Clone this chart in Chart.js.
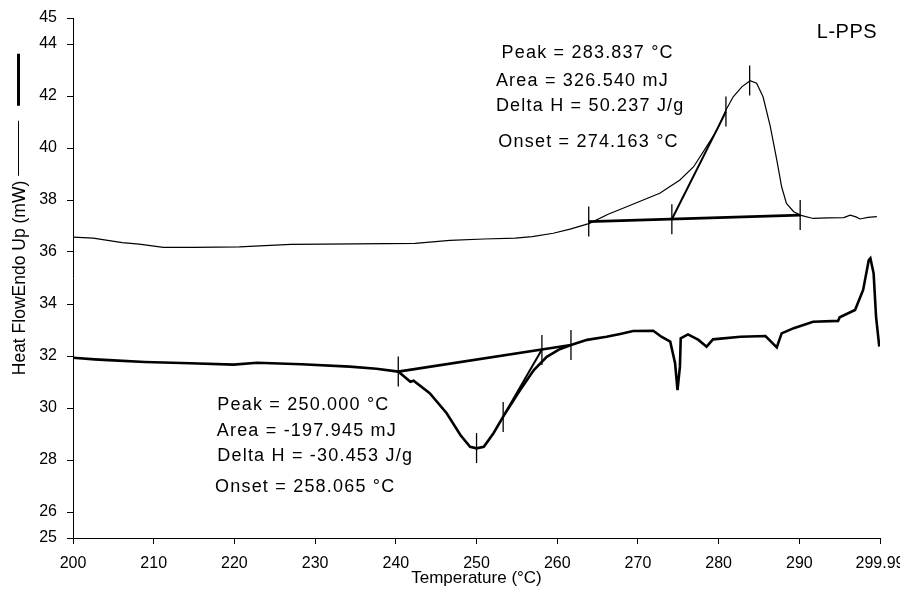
<!DOCTYPE html>
<html lang="en">
<head>
    <meta charset="UTF-8">
    <meta name="viewport" content="width=device-width, initial-scale=1.0">
    <title>L-PPS DSC</title>
    <script src="https://cdn.jsdelivr.net/npm/chart.js"></script>
    <style>
        html, body {
            margin: 0;
            padding: 0;
            background: #fff;
            overflow: hidden;
        }
        .wrap {
            width: 900px;
            height: 594px;
            overflow: hidden;
        }
        .box {
            position: relative;
            width: 920px;
            height: 594px;
        }
    </style>
</head>
<body>
    <div class="wrap">
        <div class="box"><canvas id="dscChart"></canvas></div>
    </div>

    <script>
        // axis ticks
        const xTicks = [200, 210, 220, 230, 240, 250, 260, 270, 280, 290, 299.99];
        const yTicks = [25, 26, 28, 30, 32, 34, 36, 38, 40, 42, 44, 45];

        // thin curve (upper trace)
        const thinTemp = [200.0, 202.5, 206.1, 208.2, 211.2, 215.0, 220.6, 227.0, 235.0, 242.4, 246.7, 250.9, 254.8, 256.9,
            259.5, 261.6, 264.0, 266.3, 268.6, 272.7, 275.2, 276.9, 278.5, 279.8, 280.9, 281.8, 282.9, 283.9,
            284.7, 285.5, 286.4, 287.2, 287.8, 288.4, 289.3, 290.1, 291.7, 293.5, 295.5, 296.3, 297.0, 297.5, 298.5, 299.6];
        const thinFlow = [36.57, 36.53, 36.36, 36.30, 36.18, 36.18, 36.20, 36.29, 36.31, 36.33, 36.45, 36.50, 36.53, 36.59,
            36.72, 36.88, 37.10, 37.45, 37.74, 38.26, 38.77, 39.28, 40.05, 40.69, 41.46, 41.97, 42.36, 42.59,
            42.49, 41.97, 40.82, 39.54, 38.51, 37.87, 37.55, 37.42, 37.29, 37.31, 37.32, 37.42, 37.35, 37.27, 37.33, 37.36];

        // thick curve (lower trace)
        const thickTemp = [200.0, 202.7, 205.0, 208.9, 214.5, 219.9, 222.8, 228.3, 234.3, 237.6, 240.3, 241.8, 242.2, 244.2,
            246.3, 248.0, 249.2, 250.0, 250.9, 252.1, 253.3, 255.4, 257.1, 258.7, 260.3, 261.7, 263.7, 266.1,
            267.8, 269.4, 271.9, 272.9, 274.0, 274.6, 274.9, 275.2, 275.3, 276.2, 277.5, 278.5, 279.3, 282.7,
            285.8, 287.2, 287.8, 289.3, 291.7, 294.8, 295.0, 296.9, 297.9, 298.6, 298.8, 299.2, 299.5, 299.9];
        const thickFlow = [31.93, 31.87, 31.83, 31.77, 31.72, 31.67, 31.74, 31.68, 31.59, 31.51, 31.40, 31.01, 31.05, 30.57,
            29.80, 28.96, 28.51, 28.45, 28.51, 29.03, 29.67, 30.69, 31.46, 31.97, 32.26, 32.42, 32.62, 32.74,
            32.85, 32.96, 32.97, 32.74, 32.55, 31.72, 30.69, 31.59, 32.68, 32.83, 32.62, 32.36, 32.64, 32.74,
            32.77, 32.33, 32.87, 33.07, 33.32, 33.35, 33.49, 33.77, 34.54, 35.69, 35.76, 35.18, 33.51, 32.36];

        // baselines and onset tangents
        const thinBaseTemp = [263.9, 290.1];
        const thinBaseFlow = [37.17, 37.42];
        const thinOnsetTemp = [274.2, 280.9];
        const thinOnsetFlow = [37.26, 41.40];
        const thickBaseTemp = [240.3, 261.7];
        const thickBaseFlow = [31.40, 32.42];
        const thickOnsetTemp = [253.3, 258.1];
        const thickOnsetFlow = [29.67, 32.25];

        // cursor marks
        const markTemp = [263.9, 274.2, 280.9, 283.84, 290.1, 240.3, 250.0, 253.3, 258.1, 261.7];
        const markFlow = [37.17, 37.26, 41.40, 42.60, 37.42, 31.40, 28.46, 29.65, 32.23, 32.42];

        // result text, anchored in data units
        const notes = [
            { text: 'Peak = 283.837 °C', x: 253.1, y: 43.65 },
            { text: 'Area = 326.540 mJ', x: 252.4, y: 42.58 },
            { text: 'Delta H = 50.237 J/g', x: 252.4, y: 41.60 },
            { text: 'Onset = 274.163 °C', x: 252.7, y: 40.24 },
            { text: 'Peak = 250.000 °C', x: 217.88, y: 30.12 },
            { text: 'Area = -197.945 mJ', x: 217.81, y: 29.13 },
            { text: 'Delta H = -30.453 J/g', x: 217.88, y: 28.16 },
            { text: 'Onset = 258.065 °C', x: 217.6, y: 26.97 }
        ];
        const sampleName = { text: 'L-PPS', x: 292.16, y: 44.44 };

        function pairs(xs, ys) {
            return xs.map((x, i) => ({ x: x, y: ys[i] }));
        }

        function lineSet(xs, ys, width) {
            return {
                data: pairs(xs, ys),
                showLine: true,
                borderColor: '#000',
                borderWidth: width,
                pointRadius: 0,
                tension: 0
            };
        }

        const notesPlugin = {
            id: 'notes',
            afterDatasetsDraw(chart) {
                const ctx = chart.ctx;
                const xs = chart.scales.x;
                const ys = chart.scales.y;
                ctx.save();
                ctx.fillStyle = '#000';
                ctx.textAlign = 'left';
                ctx.textBaseline = 'middle';
                ctx.font = '18px Arial, "Liberation Sans", sans-serif';
                ctx.letterSpacing = '1.2px';
                notes.forEach(n => {
                    ctx.fillText(n.text, xs.getPixelForValue(n.x), ys.getPixelForValue(n.y));
                });
                ctx.font = '20px Arial, "Liberation Sans", sans-serif';
                ctx.letterSpacing = '0.5px';
                ctx.fillText(sampleName.text, xs.getPixelForValue(sampleName.x), ys.getPixelForValue(sampleName.y));
                ctx.restore();
            }
        };

        // line keys drawn after the y axis title
        const yKeyPlugin = {
            id: 'yKey',
            afterDraw(chart) {
                const ys = chart.scales.y;
                const t = ys.options.title;
                const ctx = chart.ctx;
                ctx.save();
                ctx.font = t.font.size + 'px ' + t.font.family;
                const w = ctx.measureText(t.text).width;
                const end = (ys.top + ys.bottom) / 2 - w / 2;
                const x = ys.left + 18.5;
                ctx.strokeStyle = '#000';
                ctx.lineWidth = 1;
                ctx.beginPath();
                ctx.moveTo(x, end - 5);
                ctx.lineTo(x, end - 60);
                ctx.stroke();
                ctx.lineWidth = 3;
                ctx.beginPath();
                ctx.moveTo(x, end - 75);
                ctx.lineTo(x, end - 127);
                ctx.stroke();
                ctx.restore();
            }
        };

        const ctx = document.getElementById('dscChart').getContext('2d');
        new Chart(ctx, {
            type: 'scatter',
            data: {
                datasets: [
                    lineSet(thinTemp, thinFlow, 1.2),
                    lineSet(thickTemp, thickFlow, 2.6),
                    lineSet(thinBaseTemp, thinBaseFlow, 2.6),
                    lineSet(thinOnsetTemp, thinOnsetFlow, 2),
                    lineSet(thickBaseTemp, thickBaseFlow, 2.6),
                    lineSet(thickOnsetTemp, thickOnsetFlow, 2),
                    {
                        data: pairs(markTemp, markFlow),
                        showLine: false,
                        pointStyle: 'line',
                        rotation: 90,
                        pointRadius: 15,
                        borderColor: '#000',
                        borderWidth: 1.3
                    }
                ]
            },
            options: {
                responsive: true,
                maintainAspectRatio: false,
                animation: false,
                events: [],
                layout: { padding: { left: 0, top: 18, right: 40, bottom: 0 } },
                plugins: {
                    legend: { display: false },
                    tooltip: { enabled: false }
                },
                scales: {
                    x: {
                        type: 'linear',
                        min: 200,
                        max: 299.99,
                        afterBuildTicks: s => { s.ticks = xTicks.map(v => ({ value: v })); },
                        afterFit: s => { s.height = 56; },
                        grid: { drawOnChartArea: false, drawTicks: true, tickLength: 6, color: '#000' },
                        border: { color: '#000', width: 1 },
                        ticks: {
                            color: '#000',
                            padding: 12,
                            maxRotation: 0,
                            autoSkip: false,
                            font: { family: 'Arial, "Liberation Sans", sans-serif', size: 16, lineHeight: 1 },
                            callback: v => String(v)
                        },
                        title: {
                            display: true,
                            text: 'Temperature (°C)',
                            color: '#000',
                            padding: { top: 0, bottom: 7 },
                            font: { family: 'Arial, "Liberation Sans", sans-serif', size: 17, lineHeight: 1 }
                        }
                    },
                    y: {
                        type: 'linear',
                        min: 25,
                        max: 45,
                        afterBuildTicks: s => { s.ticks = yTicks.map(v => ({ value: v })); },
                        afterFit: s => { s.width = 73; },
                        grid: { drawOnChartArea: false, drawTicks: true, tickLength: 6, color: '#000' },
                        border: { color: '#000', width: 1 },
                        ticks: {
                            color: '#000',
                            padding: 10,
                            autoSkip: false,
                            font: { family: 'Arial, "Liberation Sans", sans-serif', size: 16, lineHeight: 1 },
                            callback: v => String(v)
                        },
                        title: {
                            display: true,
                            text: 'Heat FlowEndo Up (mW)',
                            color: '#000',
                            padding: { top: 11.5, bottom: 0 },
                            font: { family: 'Arial, "Liberation Sans", sans-serif', size: 17.5, lineHeight: 1 }
                        }
                    }
                }
            },
            plugins: [notesPlugin, yKeyPlugin]
        });
    </script>
</body>
</html>
